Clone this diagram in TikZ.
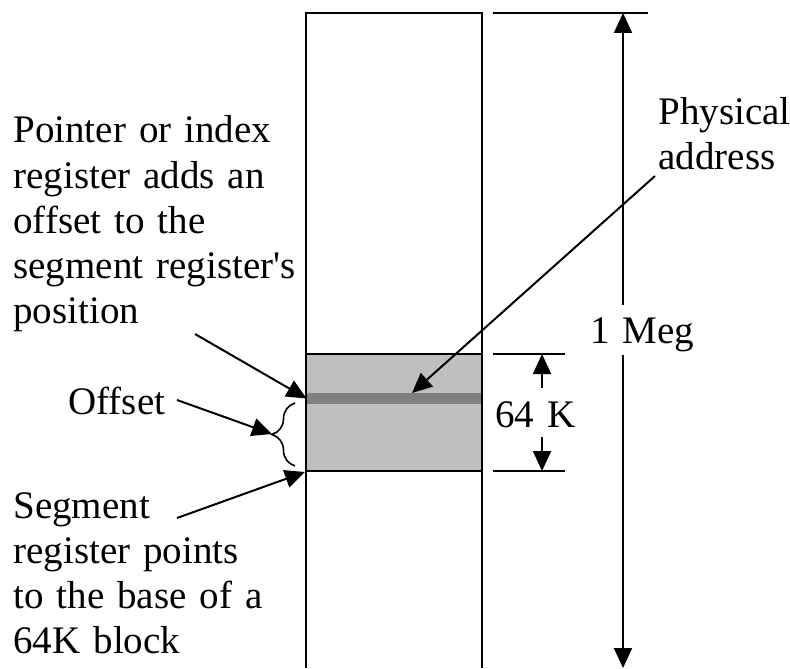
\documentclass[tikz,border=0pt]{standalone}
\usepackage{fontspec}
\setmainfont{Liberation Serif}
\usetikzlibrary{arrows.meta, decorations.pathreplacing}
\colorlet{blockfill}{black!25}
\colorlet{stripefill}{black!50}

\begin{document}
\begin{tikzpicture}[x=0.5pt, y=-0.5pt,
      lbl/.style  = {inner sep=0pt, text width=160pt, align=left, anchor=base west,
                     font=\fontsize{19.5}{22.5}\selectfont},
      arr/.style  = {-{Triangle[length=10pt, width=9pt]}, line width=1pt},
      dim/.style  = {line width=1pt}
    ]
    \useasboundingbox (0,0) rectangle (790,668);

    % memory column with the 64K segment
    \draw[dim] (306,668) -- (306,13) -- (482,13) -- (482,668);
    \node[draw, dim, fill=blockfill, minimum width=88pt, minimum height=58.5pt,
          inner sep=0pt] (blk) at (394,412.5) {};
    \node[fill=stripefill, minimum width=87pt, minimum height=5.5pt,
          inner sep=0pt] (strip) at (394,398.5) {};

    % dimension lines
    \draw[dim] (493,13) -- (648,13);
    \draw[dim] (493,354) -- (565,354);
    \draw[dim] (493,471) -- (565,471);

    \coordinate (megtop) at (623,13);
    \coordinate (megbot) at (623,668);
    \coordinate (ktop)   at (542,354);
    \coordinate (kbot)   at (542,471);

    % labels
    \node[lbl] (ptr)  at (13,143)  {Pointer or index\\register adds an\\offset to the\\segment register\textquotesingle s\\position};
    \node[lbl] (seg)  at (13,518)  {Segment\\register points\\to the base of a\\64K block};
    \node[lbl] (off)  at (68,414)  {Offset};
    \node[lbl] (phys) at (658,125) {Physical\\address};
    \node[lbl] (meg)  at (590,343) {1 Meg};
    \node[lbl] (kb)   at (495,427) {64 K};

    % size arrows
    \draw[arr] (623,305) -- (megtop);
    \draw[arr] (623,355) -- (megbot);
    \draw[arr] (542,388) -- (ktop);
    \draw[arr] (542,437) -- (kbot);

    % offset brace
    \draw[line width=0.8pt, decoration={brace, amplitude=11.5pt}, decorate]
      (295,466) -- (295,403);

    % pointers into the column
    \coordinate (ptrend)  at (195,334);
    \coordinate (physend) at (655,176);
    \coordinate (offend)  at (177,400);
    \coordinate (segend)  at (177,518);
    \coordinate (paddr)   at (412,393);
    \coordinate (bracetip) at (272,434);

    \draw[arr] (ptrend)  -- (strip.west);
    \draw[arr] (physend) -- (paddr);
    \draw[arr] (offend)  -- (bracetip);
    \draw[arr] (segend)  -- (blk.south west);
  \end{tikzpicture}
\end{document}
